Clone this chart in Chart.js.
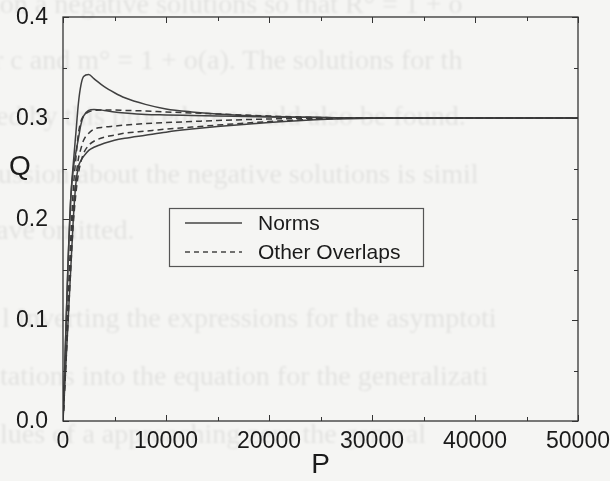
<!DOCTYPE html>
<html>
<head>
<meta charset="utf-8">
<script src="https://cdn.jsdelivr.net/npm/chart.js@4.4.1/dist/chart.umd.min.js"></script>
<style>
  html, body { margin: 0; padding: 0; background: #f5f5f3; }
  #wrap { position: relative; width: 610px; height: 481px; overflow: hidden; }
  #page { position: absolute; left: 0; top: 0; width: 610px; height: 481px;
          font-family: "Liberation Serif", serif; font-size: 28px; color: rgba(0,0,0,0.08);
          filter: blur(0.8px); white-space: nowrap; }
  #page div { position: absolute; }
  canvas { position: absolute; left: 0; top: 0; }
</style>
</head>
<body>
<div id="wrap">
  <div id="page">
    <div style="left:-8px; top:-12px">ion a negative solutions so that R° = 1 + o</div>
    <div style="left:-6px; top:44px">r c and m° = 1 + o(a). The solutions for th</div>
    <div style="left:-4px; top:100px">ed by this procedure would also be found.</div>
    <div style="left:-2px; top:158px">ussion about the negative solutions is simil</div>
    <div style="left:-4px; top:214px">ave omitted.</div>
    <div style="left:2px; top:302px">l Inverting the expressions for the asymptoti</div>
    <div style="left:0px; top:360px">tations into the equation for the generalizati</div>
    <div style="left:0px; top:418px">lues of  a  approaching zero the general</div>
  </div>
  <canvas id="qChart" width="610" height="481"></canvas>
</div>
<script>
// P grid shared by every curve
const pValues = [0, 250, 500, 750, 1000, 1250, 1500, 1750, 2000, 2500, 3000, 4000, 5000,
                 6000, 8000, 10000, 12500, 15000, 20000, 25000, 30000, 40000, 50000];

// norms (solid)
const normHigh = [0, 0.08, 0.16, 0.22, 0.255, 0.285, 0.315, 0.333, 0.341, 0.343, 0.339, 0.331, 0.325,
                  0.320, 0.3135, 0.309, 0.306, 0.304, 0.3015, 0.3005, 0.300, 0.300, 0.300];
const normMid  = [0, 0.08, 0.16, 0.22, 0.25, 0.266, 0.28, 0.294, 0.302, 0.3075, 0.3085, 0.3075, 0.306,
                  0.305, 0.3035, 0.303, 0.3025, 0.302, 0.301, 0.3005, 0.300, 0.300, 0.300];
const normLow  = [0, 0.05, 0.10, 0.15, 0.20, 0.235, 0.252, 0.258, 0.262, 0.268, 0.271, 0.275, 0.278,
                  0.280, 0.283, 0.286, 0.289, 0.2915, 0.2955, 0.2985, 0.2998, 0.300, 0.300];

// other overlaps (dashed)
const overlapHigh = [0, 0.06, 0.12, 0.18, 0.23, 0.26, 0.285, 0.297, 0.302, 0.306, 0.3075, 0.308, 0.308,
                     0.3075, 0.307, 0.306, 0.305, 0.304, 0.302, 0.3005, 0.300, 0.300, 0.300];
const overlapMid  = [0, 0.055, 0.11, 0.165, 0.21, 0.24, 0.26, 0.27, 0.278, 0.285, 0.289, 0.291, 0.292,
                     0.293, 0.2945, 0.2955, 0.2965, 0.2975, 0.299, 0.2998, 0.300, 0.300, 0.300];
const overlapLow  = [0, 0.05, 0.10, 0.15, 0.195, 0.225, 0.245, 0.257, 0.265, 0.273, 0.277, 0.281, 0.283,
                     0.285, 0.287, 0.289, 0.291, 0.293, 0.2965, 0.299, 0.300, 0.300, 0.300];

const yTicks = [0, 0.1, 0.2, 0.3, 0.4];
const xTicks = [0, 10000, 20000, 30000, 40000, 50000];
const legendLabels = ['Norms', 'Other Overlaps'];

const INK = '#333';
const TEXT = '#1a1a1a';
const FONT = '"Liberation Sans", Arial, sans-serif';

function curve(values, dashed) {
    return {
        data: values.map(function(q, i) { return { x: pValues[i], y: q }; }),
        borderColor: dashed ? '#3a3a3a' : '#404040',
        borderWidth: 1.5,
        borderDash: dashed ? [6, 4] : [],
        pointRadius: 0,
        cubicInterpolationMode: 'monotone',
        fill: false
    };
}

// frame, inward ticks on all four sides, tick labels, axis letters and the boxed legend
const framePlugin = {
    id: 'frame',
    afterDraw: function(chart) {
        const ctx = chart.ctx;
        const a = chart.chartArea;
        const xs = chart.scales.x, ys = chart.scales.y;
        ctx.save();
        ctx.strokeStyle = INK;
        ctx.lineWidth = 1.3;
        ctx.strokeRect(a.left, a.top, a.right - a.left, a.bottom - a.top);

        ctx.lineWidth = 1;
        for (let v = 0; v <= 50000; v += 5000) {
            const px = Math.round(xs.getPixelForValue(v)) + 0.5;
            const len = v % 10000 === 0 ? 6 : 4;
            ctx.beginPath();
            ctx.moveTo(px, a.bottom); ctx.lineTo(px, a.bottom - len);
            ctx.moveTo(px, a.top); ctx.lineTo(px, a.top + len);
            ctx.stroke();
        }
        for (let k = 0; k <= 8; k++) {
            const py = Math.round(ys.getPixelForValue(k * 0.05)) + 0.5;
            const len = k % 2 === 0 ? 6 : 4;
            ctx.beginPath();
            ctx.moveTo(a.left, py); ctx.lineTo(a.left + len, py);
            ctx.moveTo(a.right, py); ctx.lineTo(a.right - len, py);
            ctx.stroke();
        }

        ctx.fillStyle = TEXT;
        ctx.font = '23px ' + FONT;
        ctx.textBaseline = 'middle';
        ctx.textAlign = 'right';
        yTicks.forEach(function(v) {
            ctx.fillText(v.toFixed(1), a.left - 15, ys.getPixelForValue(v) + 1);
        });
        ctx.textAlign = 'center';
        xTicks.forEach(function(v) {
            ctx.fillText(String(v), xs.getPixelForValue(v), a.bottom + 21);
        });

        ctx.font = '28px ' + FONT;
        ctx.fillText('Q', 20, 167);
        ctx.fillText('P', (a.left + a.right) / 2, 465);

        // legend box
        const bx = 169, by = 208, bw = 254, bh = 58;
        ctx.fillStyle = '#f5f5f3';
        ctx.fillRect(bx, by, bw, bh);
        ctx.strokeStyle = '#555';
        ctx.lineWidth = 1.2;
        ctx.strokeRect(bx + 0.5, by + 0.5, bw, bh);
        ctx.strokeStyle = '#444';
        ctx.lineWidth = 1.3;
        ctx.beginPath();
        ctx.moveTo(185, 223); ctx.lineTo(242, 223);
        ctx.stroke();
        ctx.setLineDash([5, 4]);
        ctx.beginPath();
        ctx.moveTo(185, 252); ctx.lineTo(242, 252);
        ctx.stroke();
        ctx.setLineDash([]);
        ctx.fillStyle = TEXT;
        ctx.font = '21px ' + FONT;
        ctx.textAlign = 'left';
        ctx.fillText(legendLabels[0], 258, 224);
        ctx.fillText(legendLabels[1], 258, 253);
        ctx.restore();
    }
};

new Chart(document.getElementById('qChart'), {
    type: 'line',
    data: {
        datasets: [
            curve(overlapHigh, true), curve(overlapMid, true), curve(overlapLow, true),
            curve(normHigh, false), curve(normMid, false), curve(normLow, false)
        ]
    },
    options: {
        responsive: false,
        animation: false,
        layout: { padding: { left: 0, right: 32, top: 17, bottom: 0 } },
        plugins: { legend: { display: false }, tooltip: { enabled: false } },
        scales: {
            x: {
                type: 'linear', min: 0, max: 50000,
                afterFit: function(s) { s.height = 60; },
                grid: { display: false },
                border: { display: false },
                ticks: { display: false }
            },
            y: {
                type: 'linear', min: 0, max: 0.4,
                afterFit: function(s) { s.width = 63; },
                grid: { display: false },
                border: { display: false },
                ticks: { display: false }
            }
        }
    },
    plugins: [framePlugin]
});
</script>
</body>
</html>
